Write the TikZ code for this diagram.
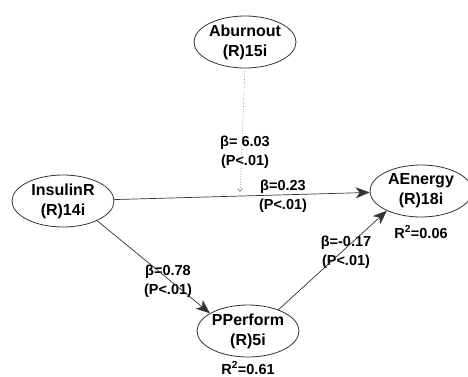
\documentclass[tikz,border=0pt]{standalone}
\usepackage{fontspec}
\setmainfont{Liberation Sans}
\usetikzlibrary{arrows.meta,shapes.geometric}
\begin{document}
\begin{tikzpicture}[x=1pt,y=-1pt,
  lv/.style={ellipse, draw=black!80, line width=0.8pt, minimum width=102pt, minimum height=52pt, inner sep=0pt, align=center, font=\bfseries\fontsize{16}{20}\selectfont},
  lbl/.style={align=center, inner sep=0pt, font=\bfseries\fontsize{14.5}{19}\selectfont},
  conn/.style={draw=black!80, line width=0.7pt, -{Stealth[length=14pt,width=11pt,inset=4pt]}},
  modline/.style={draw=black!50, dotted, line width=0.7pt, -{Straight Barb[length=3pt,width=5pt]}}
]
\useasboundingbox (0,0) rectangle (468,377);
\node[lv] (ab) at (245,42) {Aburnout\\(R)15i};
\node[lv] (ins) at (63,201) {InsulinR\\(R)14i};
\node[lv] (ae) at (421,191) {AEnergy\\(R)18i};
\node[lv] (pp) at (248,331) {PPerform\\(R)5i};

\node[lbl] (l1) at (245,152) {β= 6.03\\(P<.01)};
\node[lbl] (l2) at (283,196) {β=0.23\\(P<.01)};
\node[lbl] (l3) at (168,281) {β=0.78\\(P<.01)};
\node[lbl] (l4) at (346,252) {β=-0.17\\(P<.01)};
\node[lbl] (r1) at (421,232) {R\textsuperscript{2}=0.06};
\node[lbl] (r2) at (248,368) {R\textsuperscript{2}=0.61};

\coordinate (m) at (240,192);
\draw[modline] (ab.south) -- (m);
\draw[conn] (ins) -- (ae);
\draw[conn] (ins.-30) -- (pp.155);
\draw[conn] (pp.35) -- (ae.210);
\end{tikzpicture}
\end{document}
